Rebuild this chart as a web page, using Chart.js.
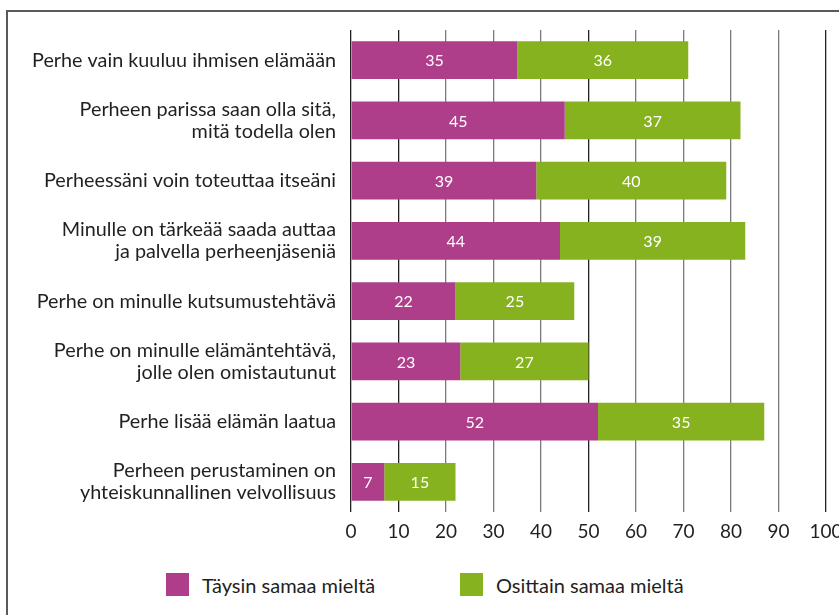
<!DOCTYPE html>
<html>
<head>
<meta charset="utf-8">
<script src="https://cdn.jsdelivr.net/npm/chart.js@4.4.1/dist/chart.umd.min.js"></script>
<style>
  html, body { margin: 0; padding: 0; background: #fff; overflow: hidden; width: 839px; height: 615px; }
  #frame { position: absolute; left: 6px; top: 10px; width: 900px; height: 700px; border: 2px solid #5a5a5a; box-sizing: border-box; }
  #wrap { position: absolute; left: 0; top: 0; width: 839px; height: 545px; }
  #legend { position: absolute; left: 0; top: 573px; width: 839px; height: 24px; font-family: Lato, sans-serif; font-size: 20px; color: #231f20; }
  .li { position: absolute; top: 0; display: flex; align-items: center; height: 23px; white-space: nowrap; }
  .lb { width: 23px; height: 23px; margin-right: 13px; }
</style>
</head>
<body>
<div id="frame"></div>
<div id="wrap"><canvas id="c"></canvas></div>
<div id="legend"></div>
<script>
const categories = [
  'Perhe vain kuuluu ihmisen elämään',
  ['Perheen parissa saan olla sitä,', 'mitä todella olen'],
  'Perheessäni voin toteuttaa itseäni',
  ['Minulle on tärkeää saada auttaa', 'ja palvella perheenjäseniä'],
  'Perhe on minulle kutsumustehtävä',
  ['Perhe on minulle elämäntehtävä,', 'jolle olen omistautunut'],
  'Perhe lisää elämän laatua',
  ['Perheen perustaminen on', 'yhteiskunnallinen velvollisuus']
];
const seriesNames = ['Täysin samaa mieltä', 'Osittain samaa mieltä'];
const taysin = [35, 45, 39, 44, 22, 23, 52, 7];
const osittain = [36, 37, 40, 39, 25, 27, 35, 15];
const xTicks = [0, 10, 20, 30, 40, 50, 60, 70, 80, 90, 100];

const colors = ['#ae3e8a', '#86b21f'];
const legendLeft = [166, 460];

const valueLabels = {
  id: 'valueLabels',
  afterDatasetsDraw(chart) {
    const ctx = chart.ctx;
    ctx.save();
    ctx.fillStyle = '#ffffff';
    ctx.font = '16px Lato, sans-serif';
    ctx.textAlign = 'center';
    ctx.textBaseline = 'middle';
    chart.data.datasets.forEach((ds, di) => {
      const meta = chart.getDatasetMeta(di);
      meta.data.forEach((el, i) => {
        const p = el.getProps(['x', 'y', 'base'], true);
        ctx.fillText(String(ds.data[i]), (p.x + p.base) / 2, p.y + 1);
      });
    });
    ctx.restore();
  }
};

const htmlLegend = {
  id: 'htmlLegend',
  afterUpdate(chart) {
    const box = document.getElementById('legend');
    box.innerHTML = '';
    chart.data.datasets.forEach((ds, i) => {
      const item = document.createElement('div');
      item.className = 'li';
      item.style.left = legendLeft[i] + 'px';
      const sw = document.createElement('span');
      sw.className = 'lb';
      sw.style.background = ds.backgroundColor;
      const tx = document.createElement('span');
      tx.textContent = ds.label;
      item.appendChild(sw);
      item.appendChild(tx);
      box.appendChild(item);
    });
  }
};

const darkLines = [0, 10, 50, 100];

new Chart(document.getElementById('c'), {
  type: 'bar',
  data: {
    labels: categories,
    datasets: [
      { label: seriesNames[0], data: taysin, backgroundColor: colors[0] },
      { label: seriesNames[1], data: osittain, backgroundColor: colors[1] }
    ]
  },
  options: {
    indexAxis: 'y',
    responsive: true,
    maintainAspectRatio: false,
    animation: false,
    layout: { padding: { top: 30, bottom: 3, left: 0, right: 13 } },
    datasets: { bar: { categoryPercentage: 1, barPercentage: 0.625, borderWidth: 0 } },
    plugins: {
      legend: { display: false },
      tooltip: { enabled: false }
    },
    scales: {
      x: {
        stacked: true,
        min: 0, max: 100,
        afterBuildTicks(scale) { scale.ticks = xTicks.map(v => ({ value: v })); },
        afterFit(scale) { scale.height = 30; scale.paddingLeft = 0; scale.paddingRight = 0; },
        border: { display: false },
        grid: {
          drawTicks: false,
          tickLength: 0,
          lineWidth: 1.3,
          color: (c) => darkLines.includes(c.tick && c.tick.value) ? '#222222' : '#7a7a7a'
        },
        ticks: {
          padding: 8,
          color: '#231f20',
          font: { family: 'Lato', size: 19 },
          maxRotation: 0
        }
      },
      y: {
        stacked: true,
        afterFit(scale) { scale.width = 351; scale.paddingTop = 0; scale.paddingBottom = 0; },
        border: { display: false },
        grid: { display: false, drawTicks: false },
        ticks: {
          padding: 15,
          color: '#231f20',
          font: { family: 'Lato', size: 19.8, lineHeight: 1.12 }
        }
      }
    }
  },
  plugins: [valueLabels, htmlLegend]
});
</script>
</body>
</html>
